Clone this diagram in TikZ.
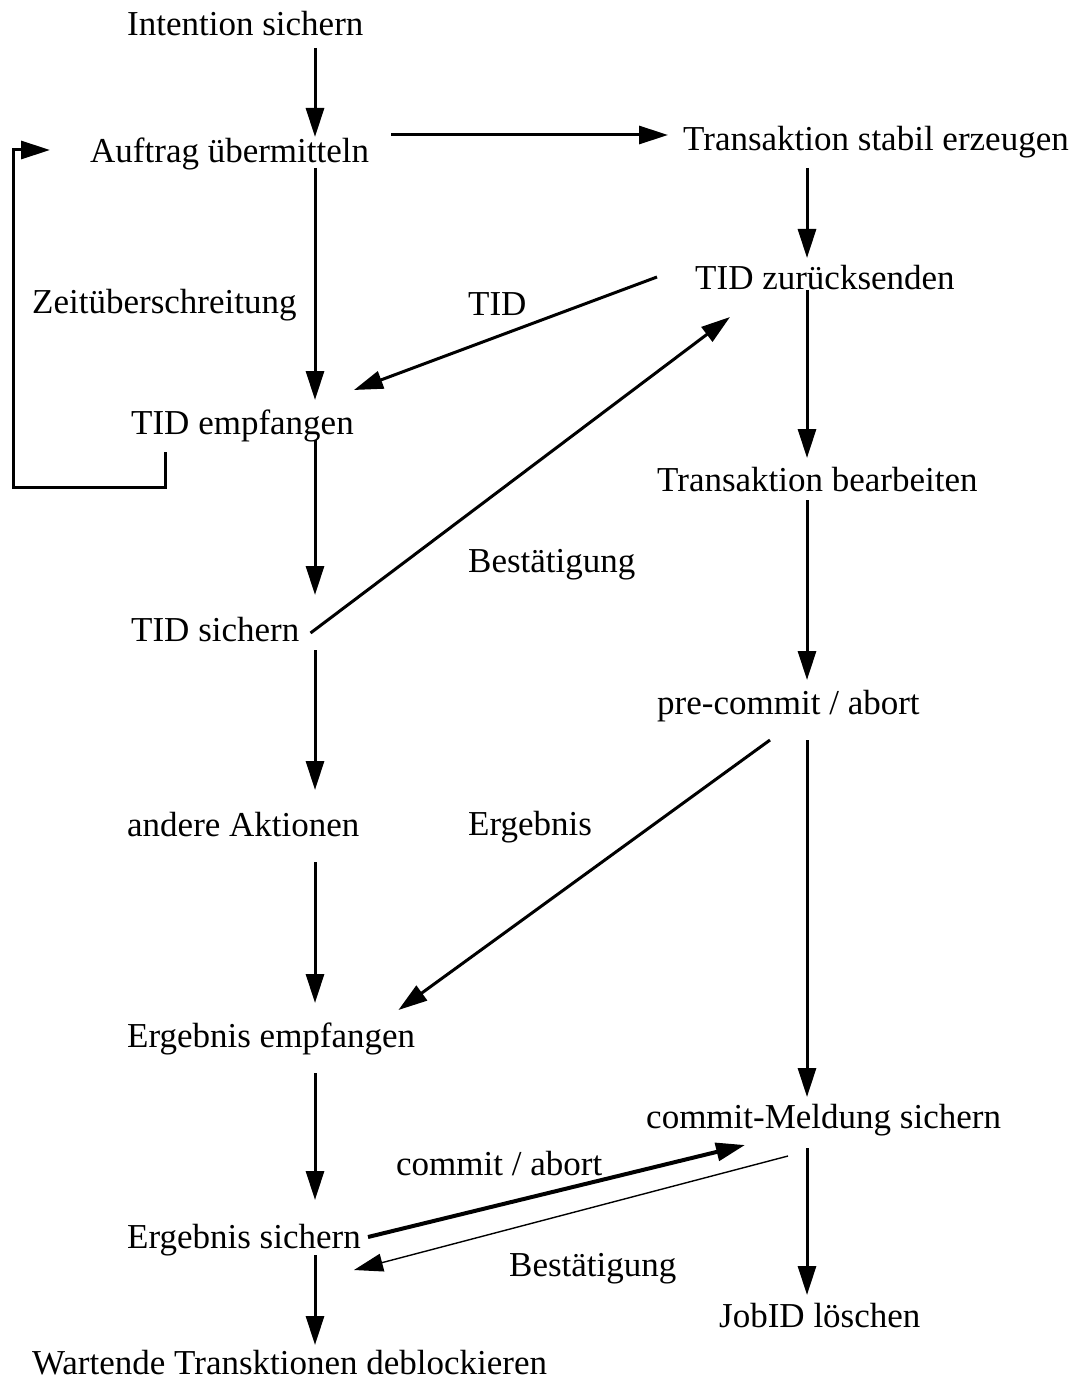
\documentclass[tikz,border=0pt]{standalone}
\usepackage{fontspec}
\setmainfont{Liberation Serif}
\usetikzlibrary{arrows.meta}
\tikzset{
  lbl/.style={inner sep=0pt, anchor=base west, font=\fontsize{35}{40}\selectfont},
  arr/.style={line width=3pt, -{Triangle[length=29pt,width=18pt]}},
  arrthick/.style={line width=4pt, -{Triangle[length=29pt,width=18pt]}},
  arrthin/.style={line width=1.4pt, -{Triangle[length=29pt,width=18pt]}}
}
\begin{document}
\begin{tikzpicture}[x=1pt,y=-1pt]
\useasboundingbox (0,0) rectangle (1078,1380);
% columns
\coordinate (colL) at (315,0);
\coordinate (colR) at (807,0);
% left column
\node[lbl] (intent)  at (127,36)   {Intention sichern};
\node[lbl] (auftrag) at (90,163)   {Auftrag übermitteln};
\node[lbl] (zeit)    at (32,313)   {Zeitüberschreitung};
\node[lbl] (tidemp)  at (131,434)  {TID empfangen};
\node[lbl] (tidsich) at (131,641)  {TID sichern};
\node[lbl] (andere)  at (127,836)  {andere Aktionen};
\node[lbl] (ergemp)  at (127,1047) {Ergebnis empfangen};
\node[lbl] (ergsich) at (127,1248) {Ergebnis sichern};
\node[lbl] (wartend) at (32,1374)  {Wartende Transktionen deblockieren};
% right column
\node[lbl] (stabil)    at (683,151)  {Transaktion stabil erzeugen};
\node[lbl] (tidzur)    at (695,289)  {TID zurücksenden};
\node[lbl] (bearb)     at (657,491)  {Transaktion bearbeiten};
\node[lbl] (precommit) at (657,714)  {pre-commit / abort};
\node[lbl] (commitm)   at (646,1128) {commit-Meldung sichern};
\node[lbl] (jobid)     at (719,1327) {JobID löschen};
% message labels
\node[lbl] (lTid)     at (468,315)  {TID};
\node[lbl] (lBest)    at (468,572)  {Bestätigung};
\node[lbl] (lErg)     at (468,835)  {Ergebnis};
\node[lbl] (lCommit)  at (396,1175) {commit / abort};
\node[lbl] (lBestB)   at (509,1276) {Bestätigung};

% left column flow
\draw[arr] ([yshift=-12pt]intent.base -| colL) -- ([yshift=26pt]auftrag.base -| colL);
\draw[arr] ([yshift=-5pt]auftrag.base -| colL) -- ([yshift=34pt]tidemp.base -| colL);
\draw[arr] ([yshift=-6pt]tidemp.base -| colL) -- ([yshift=46pt]tidsich.base -| colL);
\draw[arr] ([yshift=-9pt]tidsich.base -| colL) -- ([yshift=46pt]andere.base -| colL);
\draw[arr] ([yshift=-26pt]andere.base -| colL) -- ([yshift=44pt]ergemp.base -| colL);
\draw[arr] ([yshift=-26pt]ergemp.base -| colL) -- ([yshift=48pt]ergsich.base -| colL);
\draw[arr] ([yshift=-7pt]ergsich.base -| colL) -- ([yshift=29pt]wartend.base -| colL);

% right column flow
\draw[arr] ([yshift=-17pt]stabil.base -| colR) -- ([yshift=31pt]tidzur.base -| colR);
\draw[arr] ([yshift=-1pt]tidzur.base -| colR) -- ([yshift=33pt]bearb.base -| colR);
\draw[arr] ([yshift=-9pt]bearb.base -| colR) -- ([yshift=34pt]precommit.base -| colR);
\draw[arr] ([yshift=-26pt]precommit.base -| colR) -- ([yshift=31pt]commitm.base -| colR);
\draw[arr] ([yshift=-20pt]commitm.base -| colR) -- ([yshift=32pt]jobid.base -| colR);

% job handed over
\draw[arr] ([xshift=22pt,yshift=28pt]auftrag.base east) -- ([xshift=-15pt,yshift=16pt]stabil.base west);

% timeout loop
\coordinate (loopcorner) at (13,487);
\draw[arr] ([xshift=34pt,yshift=-18pt]tidemp.base west) |- (loopcorner)
  |- ([xshift=-40pt,yshift=13pt]auftrag.base west);

% messages between the two sides
\draw[arr] ([xshift=-38pt,yshift=12pt]tidzur.base west) -- ([yshift=44pt]tidemp.base east);
\draw[arr] ([xshift=11pt,yshift=8pt]tidsich.base east) -- ([xshift=35pt,yshift=-28pt]tidzur.base west);
\draw[arr] ([xshift=113pt,yshift=-26pt]precommit.base west) -- ([xshift=-17pt,yshift=37pt]ergemp.base east);
\draw[arrthick] ([xshift=7pt,yshift=11pt]ergsich.base east) -- ([xshift=99pt,yshift=-17pt]commitm.base west);
\draw[arrthin] ([xshift=142pt,yshift=-28pt]commitm.base west) -- ([xshift=-7pt,yshift=-22pt]ergsich.base east);
\end{tikzpicture}
\end{document}
